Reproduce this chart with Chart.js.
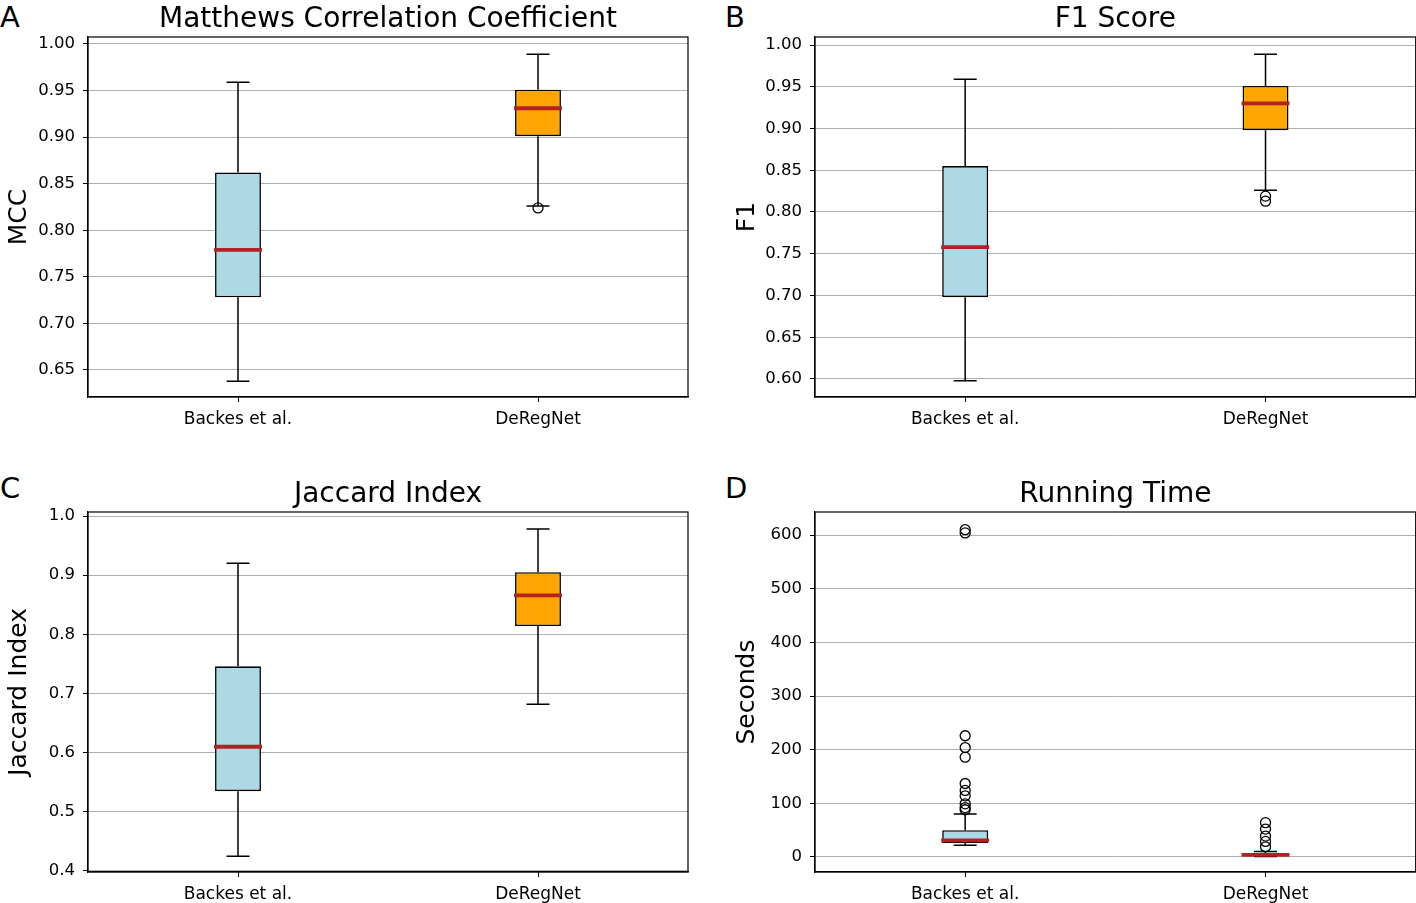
<!DOCTYPE html>
<html>
<head>
<meta charset="utf-8">
<script src="https://cdn.jsdelivr.net/npm/chart.js@4"></script>
<style>
body { margin: 0; background: #fff; width: 1416px; height: 903px; overflow: hidden; position: relative; font-family: 'DejaVu Sans', sans-serif; }
.panel { position: absolute; }
.letter { position: absolute; font-size: 29px; line-height: 1; color: #000; }
</style>
</head>
<body>
<div class="letter" style="left:0px;top:3px">A</div>
<div class="letter" style="left:725px;top:3px">B</div>
<div class="letter" style="left:0px;top:474px">C</div>
<div class="letter" style="left:725px;top:474px">D</div>

<div class="panel" style="left:0;top:0;width:708px;height:430px"><canvas id="chartA"></canvas></div>
<div class="panel" style="left:728px;top:0;width:694px;height:430px"><canvas id="chartB"></canvas></div>
<div class="panel" style="left:0;top:475px;width:708px;height:428px"><canvas id="chartC"></canvas></div>
<div class="panel" style="left:728px;top:475px;width:694px;height:428px"><canvas id="chartD"></canvas></div>

<script>
const categories = ['Backes et al.', 'DeRegNet'];

// A - MCC
const mccLow = [0.638, 0.826];
const mccQ1 = [0.728, 0.901];
const mccMedian = [0.779, 0.931];
const mccQ3 = [0.862, 0.951];
const mccHigh = [0.959, 0.989];
const mccOutliers = [[], [0.824]];

// B - F1
const f1Low = [0.598, 0.826];
const f1Q1 = [0.698, 0.898];
const f1Median = [0.758, 0.930];
const f1Q3 = [0.855, 0.951];
const f1High = [0.959, 0.989];
const f1Outliers = [[], [0.819, 0.813]];

// C - Jaccard
const jacLow = [0.425, 0.682];
const jacQ1 = [0.535, 0.814];
const jacMedian = [0.610, 0.866];
const jacQ3 = [0.746, 0.905];
const jacHigh = [0.920, 0.978];
const jacOutliers = [[], []];

// D - running time (seconds)
const timeLow = [22, 1];
const timeQ1 = [26, 2];
const timeMedian = [31, 4];
const timeQ3 = [50, 7];
const timeHigh = [80, 10];
const timeOutliers = [[610, 604, 226, 204, 186, 137, 124, 114, 99, 92, 88], [64, 52, 39, 29, 19]];

const boxColors = ['#add8e6', '#ffa500'];

Chart.defaults.font.family = "'DejaVu Sans', sans-serif";
Chart.defaults.color = '#000';

// whiskers, caps, medians and the axes frame
function boxLines(stats) {
    return {
        id: 'boxLines',
        afterDatasetsDraw(chart) {
            const ctx = chart.ctx;
            const y = chart.scales.y;
            const meta = chart.getDatasetMeta(0);
            ctx.save();
            meta.data.forEach((bar, i) => {
                const cx = bar.x;
                const half = bar.width / 2;
                const cap = half / 2;
                ctx.strokeStyle = '#000';
                ctx.lineWidth = 1.5;
                ctx.beginPath();
                ctx.moveTo(cx, y.getPixelForValue(stats.q3[i]));
                ctx.lineTo(cx, y.getPixelForValue(stats.high[i]));
                ctx.moveTo(cx, y.getPixelForValue(stats.q1[i]));
                ctx.lineTo(cx, y.getPixelForValue(stats.low[i]));
                ctx.moveTo(cx - cap, y.getPixelForValue(stats.high[i]));
                ctx.lineTo(cx + cap, y.getPixelForValue(stats.high[i]));
                ctx.moveTo(cx - cap, y.getPixelForValue(stats.low[i]));
                ctx.lineTo(cx + cap, y.getPixelForValue(stats.low[i]));
                ctx.stroke();

                ctx.strokeStyle = '#b22222';
                ctx.lineWidth = 3.8;
                ctx.beginPath();
                const my = y.getPixelForValue(stats.median[i]);
                ctx.moveTo(cx - half - 1, my);
                ctx.lineTo(cx + half + 1, my);
                ctx.stroke();
            });
            const a = chart.chartArea;
            ctx.strokeStyle = '#000';
            ctx.lineWidth = 1.2;
            ctx.strokeRect(a.left, a.top, a.right - a.left, a.bottom - a.top);
            ctx.restore();
        }
    };
}

function createBoxChart(id, title, yTitle, stats, axis, leftPanel, xHeight) {
    const ctx = document.getElementById(id).getContext('2d');
    const outlierPoints = [];
    categories.forEach((c, i) => {
        stats.outliers[i].forEach(v => outlierPoints.push({ x: c, y: v }));
    });

    return new Chart(ctx, {
        type: 'bar',
        data: {
            labels: categories,
            datasets: [
                {
                    data: categories.map((c, i) => [stats.q1[i], stats.q3[i]]),
                    backgroundColor: boxColors,
                    borderColor: '#000',
                    borderWidth: 1.6,
                    borderSkipped: false,
                    barPercentage: 0.153,
                    categoryPercentage: 1
                },
                {
                    type: 'line',
                    data: outlierPoints,
                    showLine: false,
                    pointStyle: 'circle',
                    pointRadius: 5,
                    pointBorderColor: '#000',
                    pointBackgroundColor: 'rgba(0,0,0,0)',
                    pointBorderWidth: 1.3
                }
            ]
        },
        options: {
            responsive: true,
            maintainAspectRatio: false,
            animation: false,
            layout: {
                padding: { left: 0, right: leftPanel ? 20 : 1, top: 0, bottom: 0 }
            },
            plugins: {
                legend: { display: false },
                tooltip: { enabled: false },
                title: {
                    display: true,
                    text: title,
                    color: '#000',
                    fullSize: false,
                    font: { size: 28, weight: 'normal' },
                    padding: { top: 3.4, bottom: 0 }
                }
            },
            scales: {
                x: {
                    afterFit: s => {
                        s.height = xHeight;
                        s.paddingLeft = 0;
                        s.paddingRight = 0;
                    },
                    grid: { display: true, drawOnChartArea: false, offset: false, tickLength: 5, tickColor: '#000' },
                    border: { color: '#000', width: 1.2 },
                    ticks: { color: '#000', font: { size: 17 }, padding: 7 }
                },
                y: {
                    min: axis.min,
                    max: axis.max,
                    afterFit: s => {
                        s.width = leftPanel ? 88 : 87;
                        s.paddingTop = 0;
                        s.paddingBottom = 0;
                    },
                    ticks: {
                        stepSize: axis.step,
                        includeBounds: false,
                        color: '#000',
                        font: { size: 16.5 },
                        padding: 8,
                        callback: function(value) {
                            return value.toFixed(axis.digits);
                        }
                    },
                    grid: { color: '#b0b0b0', lineWidth: 1, tickLength: 5, tickColor: '#000' },
                    border: { color: '#000', width: 1.2 },
                    title: {
                        display: true,
                        text: yTitle,
                        color: '#000',
                        font: { size: 25 },
                        padding: { top: 4, bottom: 0 }
                    }
                }
            }
        },
        plugins: [boxLines(stats)]
    });
}

createBoxChart('chartA', 'Matthews Correlation Coefficient', 'MCC',
    { low: mccLow, q1: mccQ1, median: mccMedian, q3: mccQ3, high: mccHigh, outliers: mccOutliers },
    { min: 0.621, max: 1.0075, step: 0.05, digits: 2 }, true, 33);

createBoxChart('chartB', 'F1 Score', 'F1',
    { low: f1Low, q1: f1Q1, median: f1Median, q3: f1Q3, high: f1High, outliers: f1Outliers },
    { min: 0.5784, max: 1.0096, step: 0.05, digits: 2 }, false, 33);

createBoxChart('chartC', 'Jaccard Index', 'Jaccard Index',
    { low: jacLow, q1: jacQ1, median: jacMedian, q3: jacQ3, high: jacHigh, outliers: jacOutliers },
    { min: 0.3983, max: 1.0068, step: 0.1, digits: 1 }, true, 31);

createBoxChart('chartD', 'Running Time', 'Seconds',
    { low: timeLow, q1: timeQ1, median: timeMedian, q3: timeQ3, high: timeHigh, outliers: timeOutliers },
    { min: -28, max: 643, step: 100, digits: 0 }, false, 31);
</script>
</body>
</html>
